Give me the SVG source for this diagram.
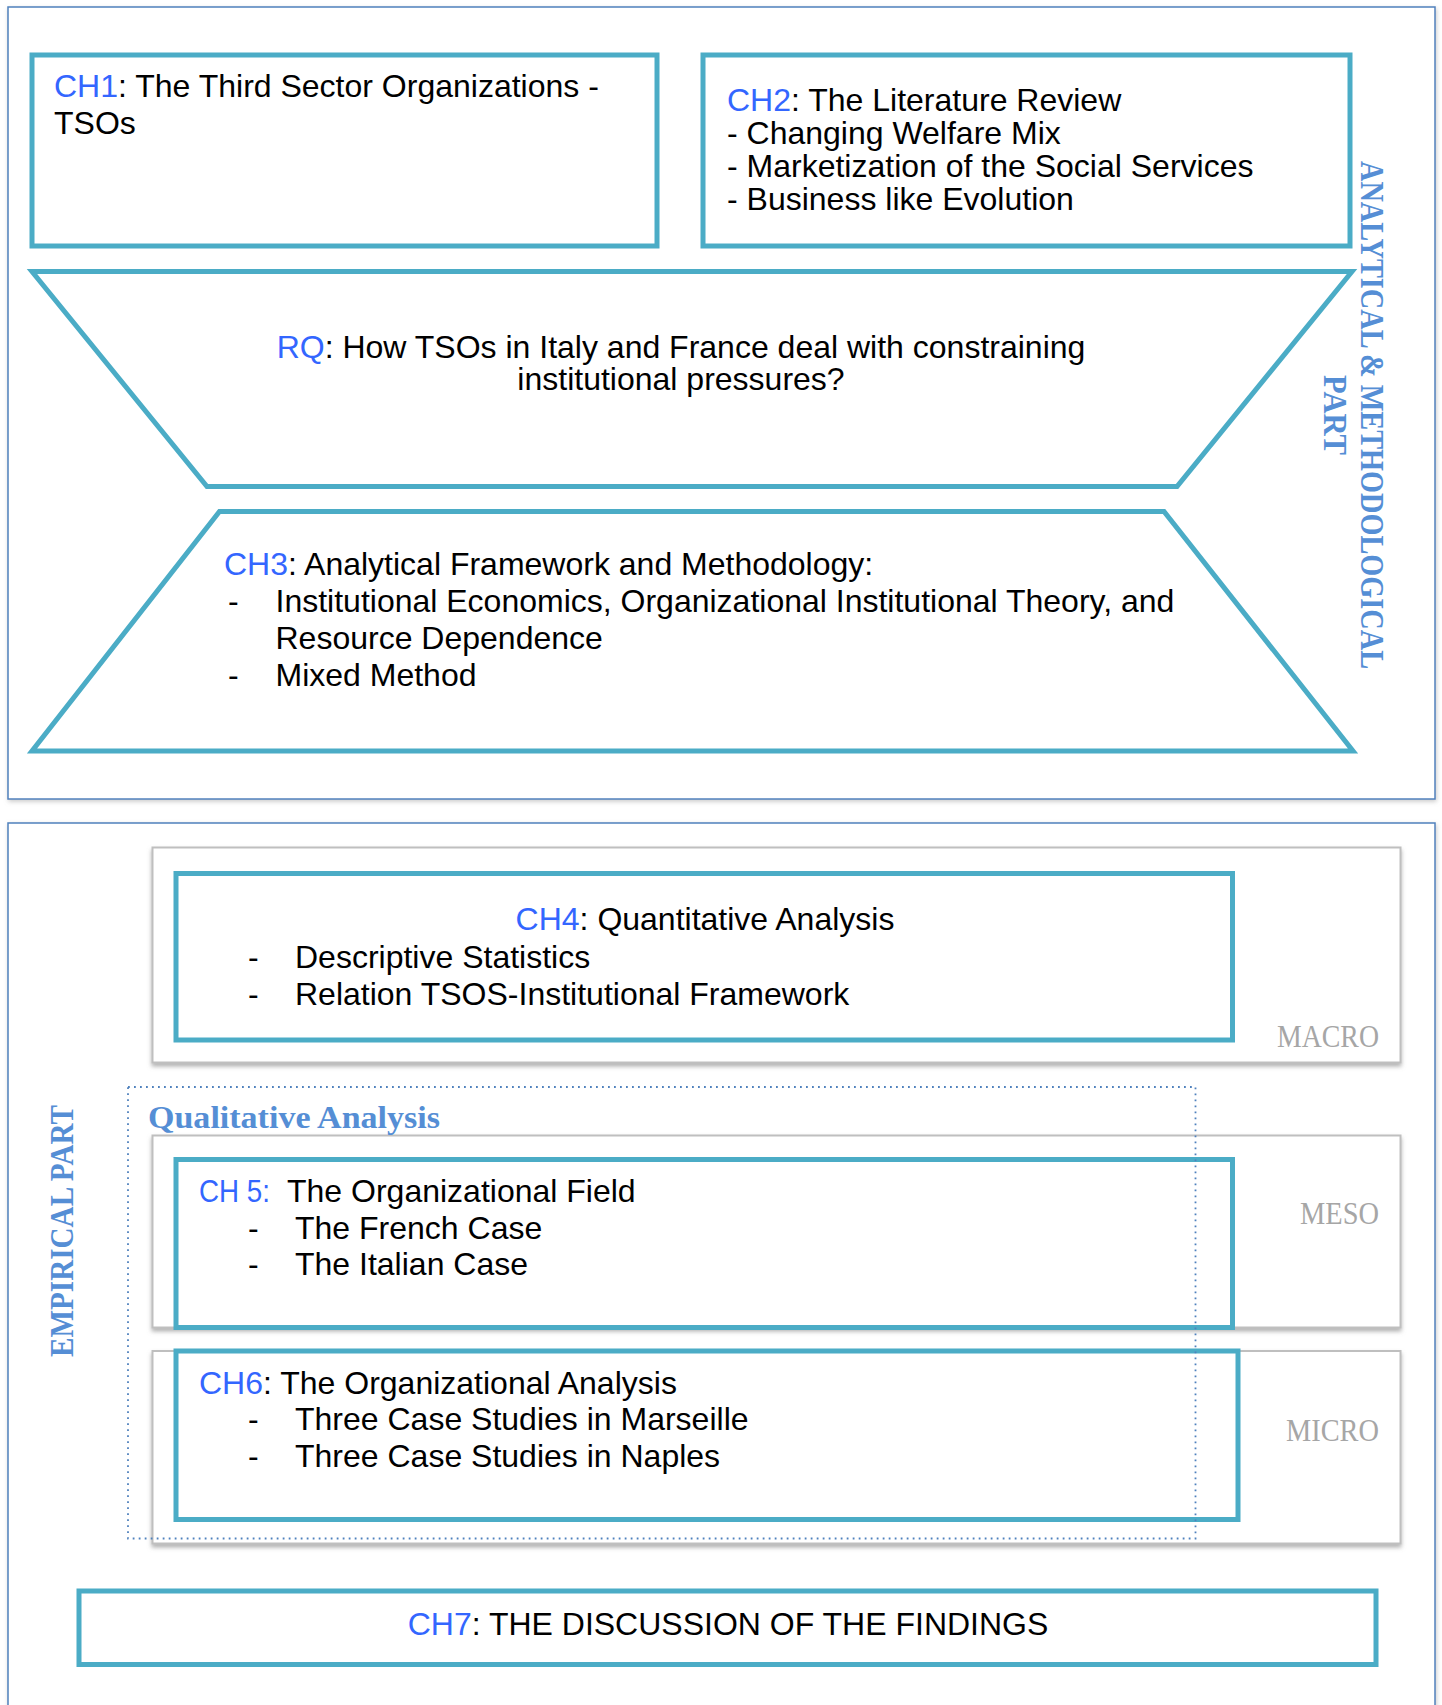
<svg xmlns="http://www.w3.org/2000/svg" width="1442" height="1705" viewBox="0 0 1442 1705">
<defs>
<filter id="panelShadow" x="-5%" y="-5%" width="110%" height="110%">
<feDropShadow dx="1" dy="2" stdDeviation="2" flood-color="#9a9a9a" flood-opacity="0.5"/>
</filter>
<filter id="boxShadow" x="-5%" y="-10%" width="110%" height="125%">
<feDropShadow dx="0" dy="3" stdDeviation="2" flood-color="#7f7f7f" flood-opacity="0.6"/>
</filter>
</defs>
<style>
.panel{fill:#ffffff;stroke:#4F81BD;stroke-width:1.5}
.teal{fill:#ffffff;stroke:#4BACC6;stroke-width:5;stroke-linejoin:miter}
.gray{fill:#ffffff;stroke:#BFBFBF;stroke-width:2}
.dotted{fill:none;stroke:#4F81BD;stroke-width:1.8;stroke-dasharray:1.8 4.2}
.t{font-family:"Liberation Sans",Arial,sans-serif;font-size:32px;fill:#000000}
.b{fill:#3366FF}
.side{font-family:"Liberation Serif","Times New Roman",serif;font-weight:bold;font-size:34px;fill:#558ED5}
.lvl{font-family:"Liberation Serif","Times New Roman",serif;font-size:31px;fill:#A6A6A6}
</style>

<g id="panel-analytical">
<rect class="panel" x="8" y="7" width="1427" height="792" filter="url(#panelShadow)"/>
<text class="side" transform="translate(1361,415) rotate(90)" text-anchor="middle" textLength="508" lengthAdjust="spacingAndGlyphs">ANALYTICAL &amp; METHODOLOGICAL</text>
<text class="side" transform="translate(1324,415) rotate(90)" text-anchor="middle" textLength="80" lengthAdjust="spacingAndGlyphs">PART</text>
</g>

<g id="panel-empirical">
<rect class="panel" x="8" y="823" width="1427" height="900" filter="url(#panelShadow)"/>
<text class="side" transform="translate(73,1231) rotate(-90)" text-anchor="middle" textLength="252" lengthAdjust="spacingAndGlyphs">EMPIRICAL PART</text>
</g>

<g id="ch1">
<rect class="teal" x="32" y="55" width="625" height="191"/>
<text class="t" x="54" y="97"><tspan class="b">CH1</tspan>: The Third Sector Organizations -</text>
<text class="t" x="54" y="133.5">TSOs</text>
</g>

<g id="ch2">
<rect class="teal" x="703" y="55" width="647" height="191"/>
<text class="t" x="727" y="110.5"><tspan class="b">CH2</tspan>: The Literature Review</text>
<text class="t" x="727" y="143.5">- Changing Welfare Mix</text>
<text class="t" x="727" y="177">- Marketization of the Social Services</text>
<text class="t" x="727" y="210">- Business like Evolution</text>
</g>

<g id="rq">
<polygon class="teal" points="32,271.5 1352,271.5 1177,486.5 207,486.5"/>
<text class="t" x="681" y="357.5" text-anchor="middle"><tspan class="b">RQ</tspan>: How TSOs in Italy and France deal with constraining</text>
<text class="t" x="681" y="390" text-anchor="middle">institutional pressures?</text>
</g>

<g id="ch3">
<polygon class="teal" points="219.5,511.5 1164,511.5 1353,751 32,751"/>
<text class="t" x="224" y="575"><tspan class="b">CH3</tspan>: Analytical Framework and Methodology:</text>
<text class="t" x="228" y="611.5">-</text>
<text class="t" x="275.5" y="611.5">Institutional Economics, Organizational Institutional Theory, and</text>
<text class="t" x="275.5" y="648.5">Resource Dependence</text>
<text class="t" x="228" y="686">-</text>
<text class="t" x="275.5" y="686">Mixed Method</text>
</g>

<g id="macro">
<rect class="gray" x="152.5" y="847.5" width="1248" height="215" filter="url(#boxShadow)"/>
<text class="lvl" x="1379" y="1046.5" text-anchor="end" textLength="102" lengthAdjust="spacingAndGlyphs">MACRO</text>
</g>

<g id="meso">
<rect class="gray" x="152.5" y="1135.5" width="1248" height="192" filter="url(#boxShadow)"/>
<text class="lvl" x="1379" y="1223.5" text-anchor="end" textLength="79" lengthAdjust="spacingAndGlyphs">MESO</text>
</g>

<g id="micro">
<rect class="gray" x="152.5" y="1351" width="1248" height="192.5" filter="url(#boxShadow)"/>
<text class="lvl" x="1379" y="1440.5" text-anchor="end" textLength="93" lengthAdjust="spacingAndGlyphs">MICRO</text>
</g>

<g id="ch4">
<rect class="teal" x="176" y="873.5" width="1056.5" height="166.5"/>
<text class="t" x="705" y="930" text-anchor="middle"><tspan class="b">CH4</tspan>: Quantitative Analysis</text>
<text class="t" x="248" y="967.5">-</text>
<text class="t" x="295" y="967.5">Descriptive Statistics</text>
<text class="t" x="248" y="1005">-</text>
<text class="t" x="295" y="1005">Relation TSOS-Institutional Framework</text>
</g>

<g id="ch5">
<rect class="teal" x="176" y="1159.5" width="1056.5" height="168"/>
<text class="t b" x="199" y="1201.5" style="font-size:31px" textLength="71" lengthAdjust="spacingAndGlyphs">CH 5:</text>
<text class="t" x="287" y="1201.5">The Organizational Field</text>
<text class="t" x="248" y="1238.5">-</text>
<text class="t" x="295" y="1238.5">The French Case</text>
<text class="t" x="248" y="1275">-</text>
<text class="t" x="295" y="1275">The Italian Case</text>
</g>

<g id="ch6">
<rect class="teal" x="176" y="1351" width="1062" height="168.5"/>
<text class="t" x="199" y="1393.5"><tspan class="b">CH6</tspan>: The Organizational Analysis</text>
<text class="t" x="248" y="1429.5">-</text>
<text class="t" x="295" y="1429.5">Three Case Studies in Marseille</text>
<text class="t" x="248" y="1466.5">-</text>
<text class="t" x="295" y="1466.5">Three Case Studies in Naples</text>
</g>

<g id="qualitative">
<rect class="dotted" x="128" y="1087" width="1067.5" height="451.5"/>
<text class="side" x="148" y="1127.5" style="font-size:31px" textLength="292" lengthAdjust="spacingAndGlyphs">Qualitative Analysis</text>
</g>

<g id="ch7">
<rect class="teal" x="79" y="1591" width="1297" height="73.5"/>
<text class="t" x="728" y="1634.5" text-anchor="middle"><tspan class="b">CH7</tspan>: THE DISCUSSION OF THE FINDINGS</text>
</g>

<g id="connectors"></g>
</svg>
